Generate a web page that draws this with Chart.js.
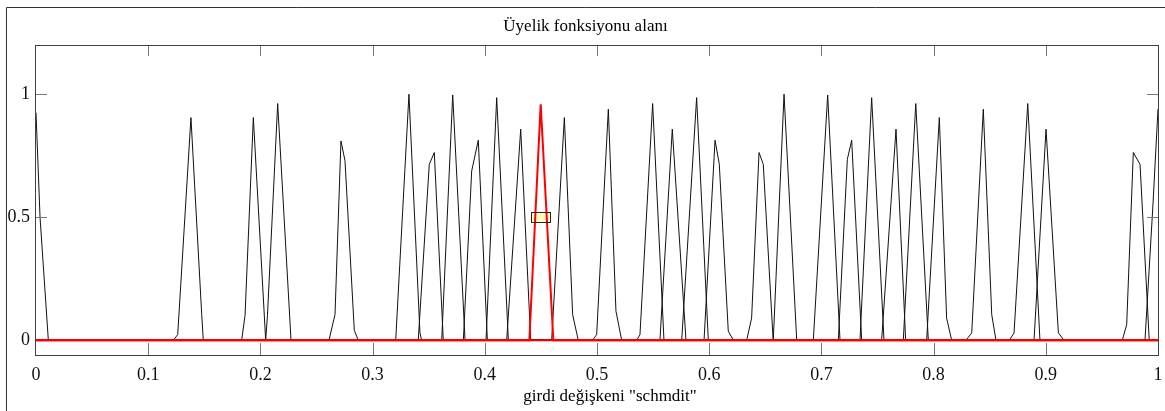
<!DOCTYPE html>
<html>
<head>
<meta charset="utf-8">
<script src="https://cdn.jsdelivr.net/npm/chart.js@4.4.1/dist/chart.umd.min.js"></script>
<style>
  html, body { margin: 0; padding: 0; background: #fff; }
  #wrap { position: relative; width: 1165px; height: 411px; }
</style>
</head>
<body>
<div id="wrap"><canvas id="mf-chart" width="1165" height="411"></canvas></div>
<script>
// Membership functions of input "schmdit"
const inputRange = [0, 1];
const selectedMf = 11; // drawn in red

// x and y vertices of each membership function (zero parts added from the range)
const mfX = [
    [0, 0.0036, 0.011],
    [0.1224, 0.1263, 0.1381, 0.1477, 0.1491],
    [0.1833, 0.1863, 0.1937, 0.2047],
    [0.2047, 0.2063, 0.2154, 0.2273],
    [0.2611, 0.2665, 0.2718, 0.2754, 0.2837, 0.2873],
    [0.3206, 0.3324, 0.3422, 0.3437],
    [0.3407, 0.3505, 0.3550, 0.3630],
    [0.3616, 0.3714, 0.3824],
    [0.3809, 0.3883, 0.3942, 0.4023],
    [0.4011, 0.4106, 0.4210],
    [0.4195, 0.4320, 0.4409],
    [0.4397, 0.4498, 0.4611],
    [0.4596, 0.4709, 0.4783, 0.4833],
    [0.4961, 0.4997, 0.5101, 0.5169, 0.5220],
    [0.5354, 0.5383, 0.5496, 0.5597],
    [0.5561, 0.5671, 0.5793],
    [0.5755, 0.5888, 0.5992],
    [0.5954, 0.6052, 0.6090, 0.6170, 0.6215],
    [0.6334, 0.6378, 0.6444, 0.6482, 0.6570],
    [0.6571, 0.6667, 0.6780],
    [0.6928, 0.7056, 0.7166],
    [0.7151, 0.7231, 0.7270, 0.7359],
    [0.7344, 0.7448, 0.7558],
    [0.7537, 0.7665, 0.7751],
    [0.7730, 0.7841, 0.7953],
    [0.7938, 0.8051, 0.8116, 0.8161],
    [0.8289, 0.8340, 0.8443, 0.8518, 0.8556],
    [0.8675, 0.8717, 0.8839, 0.8948],
    [0.8895, 0.9002, 0.9112, 0.9162],
    [0.9682, 0.9721, 0.9780, 0.9840, 0.9922],
    [0.9884, 0.9955, 1]
];
const mfY = [
    [0.925, 0.5, 0],
    [0, 0.023, 0.905, 0.104, 0],
    [0, 0.10, 0.905, 0],
    [0, 0.10, 0.962, 0],
    [0, 0.104, 0.81, 0.73, 0.04, 0],
    [0, 1.0, 0.03, 0],
    [0, 0.715, 0.763, 0],
    [0, 0.997, 0],
    [0, 0.688, 0.813, 0],
    [0, 0.986, 0],
    [0, 0.858, 0],
    [0, 0.959, 0],
    [0, 0.905, 0.104, 0],
    [0, 0.023, 0.939, 0.118, 0],
    [0, 0.023, 0.962, 0],
    [0, 0.858, 0],
    [0, 0.986, 0],
    [0, 0.813, 0.715, 0.037, 0],
    [0, 0.09, 0.763, 0.715, 0],
    [0, 1.0, 0],
    [0, 0.997, 0],
    [0, 0.735, 0.813, 0],
    [0, 0.986, 0],
    [0, 0.858, 0],
    [0, 0.962, 0],
    [0, 0.905, 0.09, 0],
    [0, 0.03, 0.939, 0.104, 0],
    [0, 0.03, 0.962, 0],
    [0, 0.858, 0.03, 0],
    [0, 0.064, 0.763, 0.715, 0],
    [0, 0.55, 0.94]
];

// label box of the selected MF
const labelX = 0.449;
const labelY = 0.5;

const xTicks = [0, 0.1, 0.2, 0.3, 0.4, 0.5, 0.6, 0.7, 0.8, 0.9, 1];
const xTickLabels = ['0', '0.1', '0.2', '0.3', '0.4', '0.5', '0.6', '0.7', '0.8', '0.9', '1'];
const yTicks = [0, 0.5, 1];
const yTickLabels = ['0', '0.5', '1'];

const titleText = 'Üyelik fonksiyonu alanı';
const xLabelText = 'girdi değişkeni "schmdit"';

const SERIF = '"Liberation Serif", "Times New Roman", serif';

// build one dataset per MF, each line spans the whole input range
const datasets = mfX.map((xs, i) => {
    const pts = xs.map((x, j) => ({ x: x, y: mfY[i][j] }));
    if (xs[0] > inputRange[0]) pts.unshift({ x: inputRange[0], y: 0 });
    if (xs[xs.length - 1] < inputRange[1]) pts.push({ x: inputRange[1], y: 0 });
    const sel = i === selectedMf;
    return {
        data: pts,
        borderColor: sel ? '#ff0000' : '#111111',
        borderWidth: sel ? 2 : 1,
        pointRadius: 0,
        fill: false,
        order: sel ? 0 : 1
    };
});

// frame, inward ticks, label box and texts
const decorPlugin = {
    id: 'decor',
    beforeDraw(chart) {
        const ctx = chart.ctx;
        ctx.save();
        ctx.fillStyle = '#fff';
        ctx.fillRect(0, 0, chart.width, chart.height);
        ctx.strokeStyle = '#333';
        ctx.lineWidth = 1;
        ctx.beginPath();
        ctx.moveTo(6.5, chart.height);
        ctx.lineTo(6.5, 7.5);
        ctx.lineTo(chart.width, 7.5);
        ctx.stroke();
        ctx.restore();
    },
    beforeDatasetsDraw(chart) {
        const ctx = chart.ctx;
        const xs = chart.scales.x, ys = chart.scales.y;
        const cx = xs.getPixelForValue(labelX), cy = ys.getPixelForValue(labelY);
        ctx.save();
        ctx.fillStyle = '#ffffc4';
        ctx.fillRect(Math.round(cx - 9) + 0.5, Math.round(cy - 5) + 0.5, 19, 10);
        ctx.restore();
    },
    afterDatasetsDraw(chart) {
        const ctx = chart.ctx;
        const a = chart.chartArea;
        const xs = chart.scales.x, ys = chart.scales.y;
        ctx.save();
        // red baseline of the selected MF stays on top of the others
        const sel = chart.getDatasetMeta(selectedMf);
        ctx.strokeStyle = '#ff0000';
        ctx.lineWidth = 2;
        ctx.beginPath();
        const y0 = ys.getPixelForValue(0);
        ctx.moveTo(xs.getPixelForValue(inputRange[0]), y0);
        ctx.lineTo(xs.getPixelForValue(inputRange[1]), y0);
        if (sel) ctx.stroke();
        // label box border
        const cx = xs.getPixelForValue(labelX), cy = ys.getPixelForValue(labelY);
        ctx.strokeStyle = '#222';
        ctx.lineWidth = 1;
        ctx.strokeRect(Math.round(cx - 9) + 0.5, Math.round(cy - 5) + 0.5, 19, 10);
        // inward ticks
        ctx.strokeStyle = '#777';
        ctx.beginPath();
        xTicks.slice(1, -1).forEach(v => {
            const px = Math.round(xs.getPixelForValue(v)) + 0.5;
            ctx.moveTo(px, a.top); ctx.lineTo(px, a.top + 11);
            ctx.moveTo(px, a.bottom); ctx.lineTo(px, a.bottom - 12);
        });
        yTicks.slice(1).forEach(v => {
            const py = Math.round(ys.getPixelForValue(v)) + 0.5;
            ctx.moveTo(a.left - 1, py); ctx.lineTo(a.left + 11, py);
            ctx.moveTo(a.right + 1, py); ctx.lineTo(a.right - 11, py);
        });
        ctx.stroke();
        // plot box
        ctx.strokeStyle = '#404040';
        ctx.strokeRect(a.left - 0.5, a.top + 0.5, a.right - a.left + 1, a.bottom - a.top);
        ctx.restore();
    },
    afterDraw(chart) {
        const ctx = chart.ctx;
        const a = chart.chartArea;
        ctx.save();
        ctx.fillStyle = '#000';
        ctx.font = '17px ' + SERIF;
        ctx.textAlign = 'center';
        ctx.textBaseline = 'middle';
        ctx.fillText(titleText, (6 + chart.width) / 2, 27);
        ctx.fillText(xLabelText, (a.left + a.right) / 2 + 13, a.bottom + 42);
        ctx.restore();
    }
};

new Chart(document.getElementById('mf-chart').getContext('2d'), {
    type: 'line',
    data: { datasets: datasets },
    options: {
        responsive: false,
        animation: false,
        devicePixelRatio: 1,
        layout: { padding: { top: 45, right: 7, left: 0, bottom: 0 } },
        plugins: {
            legend: { display: false },
            tooltip: { enabled: false },
            title: { display: false }
        },
        elements: { line: { tension: 0 }, point: { radius: 0 } },
        scales: {
            x: {
                type: 'linear',
                min: inputRange[0],
                max: inputRange[1],
                grid: { display: false, drawTicks: false },
                border: { display: false },
                afterBuildTicks: s => { s.ticks = xTicks.map(v => ({ value: v })); },
                afterFit: s => { s.height = 56; s.paddingLeft = 0; s.paddingRight = 0; },
                ticks: {
                    autoSkip: false,
                    maxRotation: 0,
                    padding: 9,
                    color: '#111',
                    font: { family: SERIF, size: 18 },
                    callback: (v, i) => xTickLabels[i]
                }
            },
            y: {
                type: 'linear',
                min: -0.06,
                max: 1.2,
                grid: { display: false, drawTicks: false },
                border: { display: false },
                afterBuildTicks: s => { s.ticks = yTicks.map(v => ({ value: v })); },
                afterFit: s => { s.width = 36; s.paddingTop = 0; s.paddingBottom = 0; },
                ticks: {
                    padding: 6,
                    color: '#111',
                    font: { family: SERIF, size: 18 },
                    callback: (v, i) => yTickLabels[i]
                }
            }
        }
    },
    plugins: [decorPlugin]
});
</script>
</body>
</html>
